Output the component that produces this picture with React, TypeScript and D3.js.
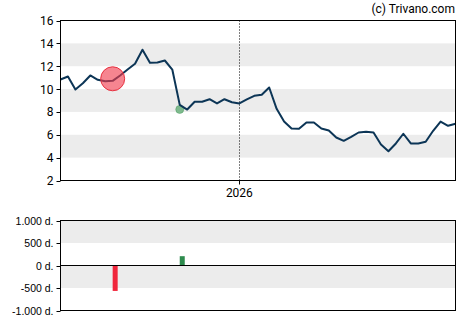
import React from "react";
import * as d3 from "d3";

const prices: number[] = [
  10.84, 11.1, 9.96, 10.51, 11.19, 10.81, 10.69, 10.72, 11.19, 11.71,
  12.21, 13.44, 12.3, 12.33, 12.5, 11.71, 8.62, 8.21, 8.89, 8.89,
  9.11, 8.74, 9.11, 8.85, 8.74, 9.09, 9.41, 9.5, 10.14, 8.27,
  7.16, 6.55, 6.52, 7.08, 7.08, 6.55, 6.38, 5.76, 5.47, 5.82,
  6.2, 6.26, 6.2, 5.15, 4.56, 5.24, 6.09, 5.24, 5.24, 5.39,
  6.35, 7.16, 6.79, 6.96,
];
const startDate = new Date(2025, 6, 17);
const dates: Date[] = prices.map((_, i) => d3.timeDay.offset(startDate, i * 7));

const priceTicks = [2, 4, 6, 8, 10, 12, 14, 16];
const priceBands: [number, number][] = [[12, 14], [8, 10], [4, 6]];
const yearTicks = [new Date(2026, 0, 1)];

const sellIndex = [7];
const sellValue = [10.9];
const buyIndex = [16];
const buyValue = [8.22];

const volumeIndex = [7, 16];
const volumeValues = [-565, 207];
const volumeTicks = [1000, 500, 0, -500, -1000];
const volumeTickLabels = ["1.000 d.", "500 d.", "0 d.", "-500 d.", "-1.000 d."];
const volumeBands: [number, number][] = [[500, 1000], [-500, 0]];

const L = 60.5, R = 455.5, T = 20.5, B = 180.5;
const VT = 220.5, VB = 310.5;

export default function App() {
  const x = d3.scaleTime().domain([dates[0], dates[dates.length - 1]]).range([L, R]);
  const y = d3.scaleLinear().domain([2, 16]).range([B, T]);
  const vy = d3.scaleLinear().domain([-1000, 1000]).range([VB, VT]);
  const line = d3.line<number>().x((_, i) => x(dates[i])).y((d) => y(d));
  const font = "Roboto, 'Liberation Sans', Arial, sans-serif";
  const afont = "'Liberation Sans', Arial, sans-serif";
  return (
    <svg width={470} height={325} style={{ position: "absolute", left: 0, top: 0 }}>
      <rect x={0} y={0} width={470} height={325} fill="#fff" />
      <text x={455} y={13} textAnchor="end" fontFamily={font} fontSize={12} fill="#000">(c) Trivano.com</text>
      {priceBands.map(([a, b], i) => (
        <rect key={i} x={L} y={y(b)} width={R - L} height={y(a) - y(b)} fill="#ececec" />
      ))}
      {yearTicks.map((d, i) => (
        <g key={i}>
          <line x1={Math.round(x(d)) + 0.5} x2={Math.round(x(d)) + 0.5} y1={T} y2={B} stroke="#000" strokeWidth={1} strokeDasharray="1,2" />
          <line x1={Math.round(x(d)) + 0.5} x2={Math.round(x(d)) + 0.5} y1={B} y2={B + 4} stroke="#000" />
          <text x={x(d)} y={B + 16} textAnchor="middle" fontFamily={font} fontSize={12} fill="#000">{d3.timeFormat("%Y")(d)}</text>
        </g>
      ))}
      {priceTicks.map((t) => (
        <g key={t}>
          <line x1={L - 4} x2={L} y1={Math.round(y(t)) + 0.5} y2={Math.round(y(t)) + 0.5} stroke="#000" />
          <text x={L - 7} y={y(t) + 4.5} textAnchor="end" fontFamily={font} fontSize={12} fill="#000">{t}</text>
        </g>
      ))}
      {buyIndex.map((idx, i) => (
        <circle key={i} cx={x(dates[idx])} cy={y(buyValue[i])} r={4} fill="#5aa86e" fillOpacity={0.75} stroke="#4a9a5e" strokeWidth={0.5} />
      ))}
      <path d={line(prices) ?? ""} fill="none" stroke="#0c3556" strokeWidth={2} strokeLinejoin="round" />
      {sellIndex.map((idx, i) => (
        <circle key={i} cx={x(dates[idx])} cy={y(sellValue[i])} r={12} fill="#f03a4c" fillOpacity={0.62} stroke="#e8303f" strokeWidth={1} />
      ))}
      <rect x={L} y={T} width={R - L} height={B - T} fill="none" stroke="#000" strokeWidth={1} />

      {volumeBands.map(([a, b], i) => (
        <rect key={i} x={L} y={vy(b)} width={R - L} height={vy(a) - vy(b)} fill="#ececec" />
      ))}
      {volumeIndex.map((idx, i) => {
        const v = volumeValues[i];
        const bx = x(dates[idx]);
        return (
          <rect key={i} x={bx} y={Math.min(vy(v), vy(0))} width={5} height={Math.abs(vy(v) - vy(0))} fill={v < 0 ? "#f0263c" : "#2e8b4e"} />
        );
      })}
      <line x1={L} x2={R} y1={vy(0)} y2={vy(0)} stroke="#000" strokeWidth={1} />
      {volumeTicks.map((t, i) => (
        <g key={t}>
          <line x1={L - 4} x2={L} y1={Math.round(vy(t)) + 0.5} y2={Math.round(vy(t)) + 0.5} stroke="#000" />
          <text x={L - 7} y={vy(t) + 4} textAnchor="end" fontFamily={afont} fontSize={10.5} fill="#000">{volumeTickLabels[i]}</text>
        </g>
      ))}
      <rect x={L} y={VT} width={R - L} height={VB - VT} fill="none" stroke="#000" strokeWidth={1} />
    </svg>
  );
}
